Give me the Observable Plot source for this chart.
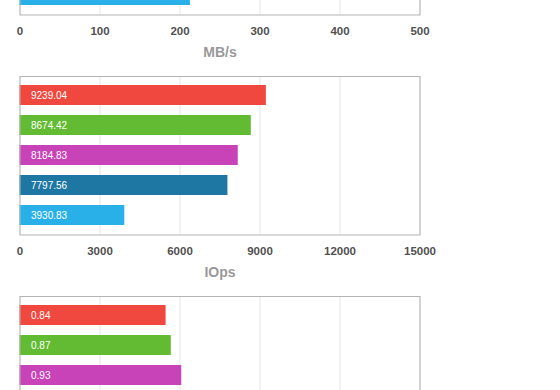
<!DOCTYPE html>
<html>
<head>
<meta charset="utf-8">
<script src="https://cdn.jsdelivr.net/npm/d3@7"></script>
<script src="https://cdn.jsdelivr.net/npm/@observablehq/plot@0.6"></script>
<style>
  html, body { margin: 0; padding: 0; background: #fff; overflow: hidden; }
  #wrap { position: absolute; left: 0; top: -154.5px; width: 560px; }
  #wrap svg { display: block; overflow: visible; }
</style>
</head>
<body>
<div id="wrap"></div>
<script>
// Series (one bar per series in every panel, same order/colours)
const categories = ["Series 1", "Series 2", "Series 3", "Series 4", "Series 5"];
const colors = ["#f0483e", "#63bb33", "#c843b8", "#1e77a3", "#2ab0e9"];

// Panel 1: throughput (only the last bar is visible in the picture, its label is off-screen)
const mbpsCategories = ["Series 5"];
const mbpsValues = [213];
const mbpsTicks = [0, 100, 200, 300, 400, 500];

// Panel 2: IOps
const iopsValues = [9239.04, 8674.42, 8184.83, 7797.56, 3930.83];
const iopsTicks = [0, 3000, 6000, 9000, 12000, 15000];

// Panel 3: latency (only the first three bars are visible; its axis is off-screen)
const latencyValues = [0.84, 0.87, 0.93];
const latencyTicks = [0, 0.46, 0.92, 1.38, 1.84, 2.3];

function panel(cats, values, ticks, label, {showLabels = true, showAxis = true} = {}) {
  const data = values.map((v, i) => ({cat: cats[i], v, txt: v.toFixed(2)}));
  const x0 = ticks[0];
  const marks = [
    Plot.gridX(ticks, {stroke: "#e6e6e6", strokeOpacity: 1}),
    Plot.barX(data, {x1: x0, x2: "v", y: "cat", fill: "cat"}),
    Plot.frame({stroke: "#b3b3b3"}),
    Plot.axisY({ticks: [], label: null, tickSize: 0})
  ];
  if (showLabels) {
    marks.push(Plot.text(data, {x: x0, y: "cat", text: "txt", dx: 11, textAnchor: "start",
      fill: "#fff", fontSize: 10}));
  }
  if (showAxis) {
    marks.push(
      Plot.axisX(ticks, {tickSize: 0, tickPadding: 12, fontSize: 11.5, fontWeight: "bold",
        fill: "#505050", label: null, tickFormat: d => String(d)}),
      Plot.text([label], {frameAnchor: "bottom", dy: 38, fontSize: 14, fontWeight: "bold",
        fill: "#999", lineAnchor: "middle"})
    );
  } else {
    marks.push(Plot.axisX({ticks: [], label: null, tickSize: 0}));
  }
  return Plot.plot({
    width: 560,
    height: 220,
    marginLeft: 19.5,
    marginRight: 140.5,
    marginTop: 10,
    marginBottom: 51.5,
    style: {fontFamily: "'Liberation Sans', Arial, Helvetica, sans-serif", background: "#fff"},
    x: {domain: [ticks[0], ticks[ticks.length - 1]]},
    y: {domain: categories, paddingInner: 1 / 3, paddingOuter: 0.3083, align: 0.5},
    color: {domain: categories, range: colors},
    marks
  });
}

const wrap = document.getElementById("wrap");
wrap.appendChild(panel(mbpsCategories, mbpsValues, mbpsTicks, "MB/s", {showLabels: false}));
wrap.appendChild(panel(categories, iopsValues, iopsTicks, "IOps"));
wrap.appendChild(panel(categories, latencyValues, latencyTicks, "ms", {showAxis: false}));
</script>
</body>
</html>
